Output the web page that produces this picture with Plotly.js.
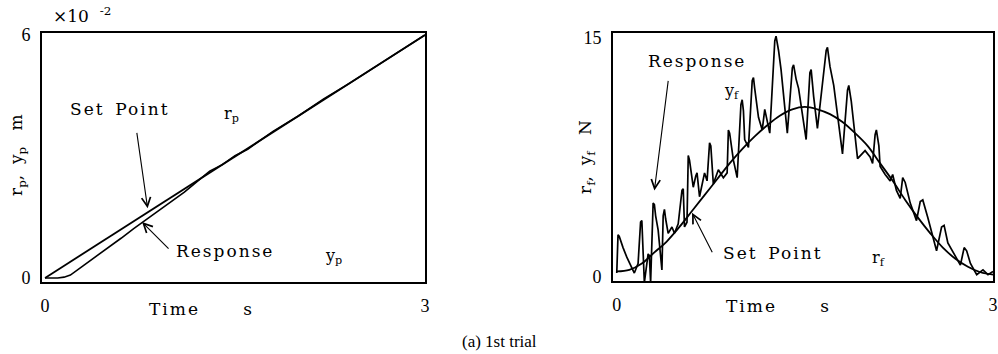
<!DOCTYPE html>
<html>
<head>
<meta charset="utf-8">
<script src="https://cdn.plot.ly/plotly-3.0.1.min.js"></script>
<style>html,body{margin:0;padding:0;background:#fff;}#chart{width:998px;height:354px;}</style>
</head>
<body>
<div id="chart"></div>
<script>
// ---- Left panel: position (x 10^-2 m) ----
const timeP = [0, 0.5, 1.0, 1.5, 2.0, 2.5, 3.0];
const setPointP = [0, 1, 2, 3, 4, 5, 6];
const timeRespP = [0, 0.1, 0.15, 0.2, 0.3, 0.4, 0.5, 0.6, 0.7, 0.8, 0.9, 1.0, 1.1, 1.2, 1.3, 1.4, 1.5, 1.6, 1.7, 1.8, 2.0, 2.2, 2.4, 2.6, 2.8, 3.0];
const responseP = [0, 0, 0.02, 0.07, 0.3, 0.52, 0.74, 0.98, 1.22, 1.45, 1.67, 1.9, 2.12, 2.38, 2.64, 2.8, 3.02, 3.18, 3.4, 3.62, 4.0, 4.42, 4.8, 5.2, 5.6, 6.0];

// ---- Right panel: force (N) ----
const timeF = [0, 0.1, 0.2, 0.3, 0.4, 0.5, 0.6, 0.7, 0.8, 0.9, 1.0, 1.1, 1.2, 1.3, 1.4, 1.5, 1.6, 1.7, 1.8, 1.9, 2.0, 2.1, 2.2, 2.3, 2.4, 2.5, 2.6, 2.7, 2.8, 2.9, 3.0];
const setPointF = [0.3, 0.4, 0.8, 1.5, 2.2, 3.1, 4.1, 5.1, 6.1, 7.1, 8.0, 8.8, 9.5, 10.1, 10.5, 10.65, 10.5, 10.2, 9.7, 9.0, 8.2, 7.1, 6.0, 4.8, 3.7, 2.7, 1.8, 1.1, 0.6, 0.25, 0.1];
const timeRespF = [0.00, 0.01, 0.02, 0.04, 0.05, 0.08, 0.10, 0.14, 0.17, 0.19, 0.20, 0.21, 0.22, 0.25, 0.26, 0.27, 0.29, 0.30, 0.31, 0.33, 0.35, 0.36, 0.37, 0.38, 0.39, 0.41, 0.44, 0.46, 0.49, 0.52, 0.53, 0.54, 0.56, 0.57, 0.58, 0.61, 0.63, 0.64, 0.66, 0.69, 0.70, 0.72, 0.74, 0.75, 0.77, 0.81, 0.85, 0.88, 0.89, 0.90, 0.93, 0.96, 0.99, 1.00, 1.01, 1.02, 1.05, 1.08, 1.09, 1.10, 1.13, 1.16, 1.18, 1.22, 1.26, 1.27, 1.29, 1.31, 1.34, 1.36, 1.40, 1.41, 1.43, 1.45, 1.51, 1.54, 1.55, 1.57, 1.60, 1.67, 1.68, 1.70, 1.73, 1.80, 1.84, 1.85, 1.87, 1.92, 1.98, 2.02, 2.04, 2.06, 2.07, 2.09, 2.10, 2.14, 2.18, 2.20, 2.23, 2.26, 2.28, 2.30, 2.34, 2.39, 2.42, 2.44, 2.48, 2.55, 2.59, 2.61, 2.64, 2.74, 2.77, 2.79, 2.82, 2.87, 2.92, 2.96, 3.00];
const responseF = [0.2, 2.6, 2.5, 2.0, 1.8, 1.2, 0.9, 0.2, 0.8, 3.4, 3.5, 1.0, -0.4, 1.4, 1.3, -0.4, 4.6, 4.5, 3.8, 2.9, 1.0, 0.4, 3.8, 4.2, 3.6, 2.7, 3.1, 2.7, 3.3, 5.4, 5.5, 3.1, 3.4, 7.6, 7.3, 5.6, 6.3, 6.5, 5.0, 6.3, 6.5, 6.0, 8.4, 8.2, 5.8, 6.7, 6.2, 6.5, 9.2, 9.0, 7.3, 6.2, 10.8, 11.1, 10.4, 8.6, 8.1, 12.3, 12.5, 11.8, 10.0, 9.2, 10.5, 9.0, 14.8, 15.1, 14.2, 13.0, 10.3, 9.0, 13.1, 13.3, 12.4, 11.8, 8.6, 12.8, 13.0, 11.3, 9.3, 14.2, 14.4, 13.2, 12.0, 7.7, 11.7, 12.0, 11.0, 7.4, 7.9, 7.5, 7.1, 8.9, 9.2, 8.2, 6.9, 6.4, 6.0, 6.4, 5.4, 4.9, 6.2, 5.9, 4.6, 3.5, 4.7, 4.8, 3.7, 1.6, 3.1, 3.2, 2.1, 0.7, 1.8, 1.6, 0.8, 0.1, 0.4, 0.1, 0.3];

const xTicksP = [0, 3], yTicksP = [0, 6];
const xTicksF = [0, 3], yTicksF = [0, 15];

const TICKFONT = '"Liberation Serif", serif';
const FONT = '"DejaVu Serif", "Liberation Serif", serif';
const W = 998, H = 354;
const px = v => v / W, py = v => 1 - v / H;
const sp = (s, n) => '<span style="letter-spacing:' + n + 'px">' + s + '</span>';
const NB = '\u00A0';

const traces = [
  {x: timeP, y: setPointP, xaxis: 'x', yaxis: 'y', mode: 'lines', line: {color: '#000', width: 1.8}, name: 'r_p'},
  {x: timeRespP, y: responseP, xaxis: 'x', yaxis: 'y', mode: 'lines', line: {color: '#000', width: 1.6}, name: 'y_p'},
  {x: timeF, y: setPointF, xaxis: 'x2', yaxis: 'y2', mode: 'lines', line: {color: '#000', width: 1.8, shape: 'spline'}, name: 'r_f'},
  {x: timeRespF, y: responseF, xaxis: 'x2', yaxis: 'y2', mode: 'lines', line: {color: '#000', width: 1.7}, name: 'y_f'}
];

const axBase = {
  showgrid: false, zeroline: false, showline: true, mirror: true,
  linecolor: '#000', linewidth: 2, ticks: '', tickfont: {family: TICKFONT, size: 18, color: '#000'},
  fixedrange: true
};

const txt = (x, y, text, size, extra) => Object.assign({
  xref: 'paper', yref: 'paper', x: px(x), y: py(y), text: text, showarrow: false,
  font: {family: FONT, size: size || 16, color: '#000'}, xanchor: 'center', yanchor: 'middle'
}, extra || {});

const arrow = (xa, ya, x, y, ax, ay) => ({
  xref: xa, yref: ya, x: x, y: y, ax: ax, ay: ay, text: '', showarrow: true,
  arrowhead: 5, arrowsize: 1.6, arrowwidth: 1.1, arrowcolor: '#000', standoff: 0
});

const layout = {
  width: W, height: H, margin: {l: 0, r: 0, t: 0, b: 0},
  paper_bgcolor: '#fff', plot_bgcolor: '#fff', showlegend: false,
  xaxis: Object.assign({}, axBase, {domain: [px(42), px(425)], range: [-0.024, 3.0], tickvals: xTicksP, ticklabelstandoff: 6}),
  yaxis: Object.assign({}, axBase, {domain: [py(282), py(33)], range: [-0.1, 6.05], tickvals: yTicksP, ticklabelstandoff: 6}),
  xaxis2: Object.assign({}, axBase, {anchor: 'y2', domain: [px(613), px(993)], range: [-0.03, 3.0], tickvals: xTicksF, ticklabelstandoff: 6}),
  yaxis2: Object.assign({}, axBase, {anchor: 'x2', domain: [py(281), py(33)], range: [-0.3, 15.3], tickvals: yTicksF, ticklabelstandoff: 6}),
  annotations: [
    txt(82, 15, '×10' + NB + NB + '<sup>-2</sup>', 17),
    txt(17, 155, 'r<sub>p</sub>,' + NB + NB + 'y<sub>p</sub>' + NB + NB + NB + 'm', 17, {textangle: -90}),
    txt(586, 157, 'r<sub>f</sub>,' + NB + NB + 'y<sub>f</sub>' + NB + NB + NB + 'N', 17, {textangle: -90}),
    txt(200, 309, sp('Time', 2) + NB.repeat(8) + 's', 17),
    txt(777, 306, sp('Time', 2) + NB.repeat(8) + 's', 17),
    txt(500, 341, '(a) 1st trial', 17, {font: {family: TICKFONT, size: 17, color: '#000'}}),
    txt(120, 109, sp('Set', 2) + NB + NB + sp('Point', 2), 17),
    txt(231, 114, 'r<sub>p</sub>', 16),
    txt(225, 251, sp('Response', 2), 17),
    txt(333, 256, 'y<sub>p</sub>', 16),
    txt(697, 61, sp('Response', 2), 17),
    txt(731, 91, 'y<sub>f</sub>', 16),
    txt(773, 253, sp('Set', 2) + NB + NB + sp('Point', 2), 17),
    txt(878, 258, 'r<sub>f</sub>', 16),
    arrow('x', 'y', 0.81, 1.72, -11, -77),
    arrow('x', 'y', 0.766, 1.38, 28, 28),
    arrow('x2', 'y2', 0.30, 5.4, 14, -111),
    arrow('x2', 'y2', 0.60, 4.0, 21, 41)
  ]
};

Plotly.newPlot('chart', traces, layout, {staticPlot: true, displayModeBar: false});
</script>
</body>
</html>
